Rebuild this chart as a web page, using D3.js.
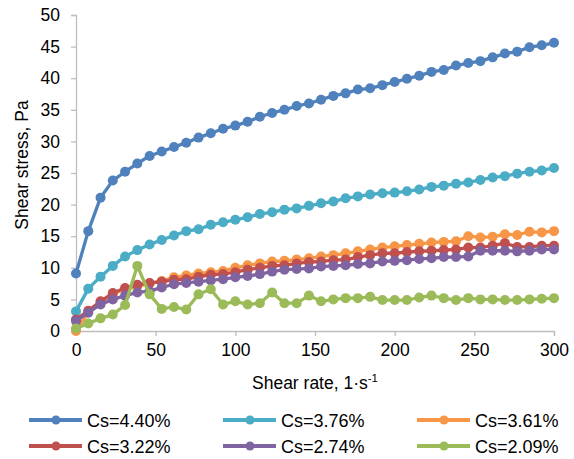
<!DOCTYPE html>
<html>
<head>
<meta charset="utf-8">
<script src="https://cdn.jsdelivr.net/npm/d3@7"></script>
<style>
  body { margin: 0; background: white; }
  svg { font-family: "Liberation Sans", Arial, sans-serif; }
</style>
</head>
<body>
<div id="chart"></div>
<script>
// Shear rate (1/s) - 40 measurement points
const shearRate = [0, 7.7, 15.4, 23.1, 30.8, 38.5, 46.2, 53.8, 61.5, 69.2,
  76.9, 84.6, 92.3, 100, 107.7, 115.4, 123.1, 130.8, 138.5, 146.2,
  153.8, 161.5, 169.2, 176.9, 184.6, 192.3, 200, 207.7, 215.4, 223.1,
  230.8, 238.5, 246.2, 253.8, 261.5, 269.2, 276.9, 284.6, 292.3, 300];

const cs440 = [9.1, 15.8, 21.1, 23.8, 25.2, 26.5, 27.7, 28.4, 29.1, 29.8,
  30.6, 31.3, 32.0, 32.5, 33.1, 33.9, 34.5, 35.0, 35.6, 36.0,
  36.6, 37.2, 37.6, 38.2, 38.4, 38.9, 39.4, 39.9, 40.4, 41.0,
  41.3, 42.0, 42.4, 42.7, 43.3, 43.9, 44.2, 44.9, 45.2, 45.6];
const cs376 = [3.1, 6.7, 8.6, 10.3, 11.8, 12.8, 13.7, 14.4, 15.1, 15.8,
  16.1, 16.8, 17.2, 17.6, 18.0, 18.5, 18.8, 19.2, 19.4, 19.8,
  20.2, 20.5, 21.0, 21.3, 21.6, 21.8, 21.9, 22.1, 22.4, 22.8,
  23.0, 23.3, 23.5, 23.9, 24.3, 24.5, 24.9, 25.2, 25.4, 25.8];
const cs361 = [0, 3.0, 4.5, 5.9, 6.6, 7.1, 7.5, 7.9, 8.5, 8.8,
  9.1, 9.3, 9.5, 10.0, 10.4, 10.7, 11.0, 11.1, 11.3, 11.5,
  11.8, 12.0, 12.3, 12.6, 12.9, 13.2, 13.4, 13.6, 13.8, 14.0,
  14.1, 14.2, 15.0, 14.8, 14.9, 15.3, 15.2, 15.7, 15.6, 15.8];
const cs322 = [1.8, 3.2, 4.7, 6.0, 6.8, 7.3, 7.6, 7.8, 8.1, 8.2,
  8.6, 8.9, 9.0, 9.3, 9.7, 10.0, 10.3, 10.4, 10.7, 10.9,
  11.0, 11.2, 11.3, 11.7, 12.0, 12.3, 12.3, 12.5, 12.6, 12.7,
  12.8, 12.9, 13.2, 13.2, 13.5, 13.9, 13.3, 13.3, 13.5, 13.5];
const cs274 = [1.6, 2.9, 4.2, 5.0, 5.6, 6.1, 6.3, 6.9, 7.4, 7.6,
  7.8, 8.0, 8.2, 8.5, 8.7, 9.0, 9.4, 9.7, 9.8, 9.9,
  10.2, 10.3, 10.4, 10.6, 10.7, 11.0, 11.1, 11.2, 11.4, 11.5,
  11.7, 11.7, 11.8, 12.7, 12.7, 12.7, 12.6, 12.7, 12.9, 12.9];
const cs209 = [0.4, 1.2, 2.0, 2.6, 4.1, 10.3, 5.8, 3.5, 3.8, 3.4,
  5.8, 6.6, 4.2, 4.7, 4.2, 4.4, 6.1, 4.4, 4.4, 5.6,
  4.7, 5.0, 5.2, 5.2, 5.4, 4.9, 4.9, 4.9, 5.3, 5.6,
  5.2, 4.9, 5.2, 5.0, 5.0, 4.9, 4.9, 5.0, 5.1, 5.2];

const seriesNames = ["Cs=4.40%", "Cs=3.76%", "Cs=3.61%", "Cs=3.22%", "Cs=2.74%", "Cs=2.09%"];
const seriesValues = [cs440, cs376, cs361, cs322, cs274, cs209];
const seriesColors = ["#4f81bd", "#4bacc6", "#f79646", "#c0504d", "#8064a2", "#9bbb59"];

const xTicks = [0, 50, 100, 150, 200, 250, 300];
const yTicks = [0, 5, 10, 15, 20, 25, 30, 35, 40, 45, 50];

const width = 574, height = 459;
const margin = {top: 15, right: 20, bottom: 128, left: 76};

const svg = d3.select("#chart").append("svg")
  .attr("width", width).attr("height", height);

const x = d3.scaleLinear().domain([0, 300]).range([margin.left, width - margin.right]);
const y = d3.scaleLinear().domain([0, 50]).range([height - margin.bottom, margin.top]);

const axisColor = "#bfbfbf";

// axes
const xAxis = svg.append("g").attr("transform", `translate(0,${y(0)})`)
  .call(d3.axisBottom(x).tickValues(xTicks).tickSize(5).tickPadding(8));
const yAxis = svg.append("g").attr("transform", `translate(${x(0)},0)`)
  .call(d3.axisLeft(y).tickValues(yTicks).tickSize(5).tickPadding(11));

[xAxis, yAxis].forEach(g => {
  g.select(".domain").attr("stroke", axisColor).attr("stroke-width", 1.3);
  g.selectAll(".tick line").attr("stroke", axisColor).attr("stroke-width", 1.3);
  g.selectAll(".tick text").attr("fill", "#000").style("font-size", "17.5px")
    .style("font-family", "'Liberation Sans', Arial, sans-serif");
});

// axis titles
svg.append("text")
  .attr("transform", `translate(28,165) rotate(-90)`)
  .attr("text-anchor", "middle").style("font-size", "17.5px")
  .text("Shear stress, Pa");

const xt = svg.append("text")
  .attr("x", 315).attr("y", 389)
  .attr("text-anchor", "middle").style("font-size", "17.5px");
xt.append("tspan").text("Shear rate, 1·s");
xt.append("tspan").attr("dy", -7).style("font-size", "11.5px").text("-1");

// series
const line = d3.line().x((d, i) => x(shearRate[i])).y(d => y(d));

seriesValues.forEach((vals, k) => {
  const g = svg.append("g");
  g.append("path").datum(vals)
    .attr("fill", "none").attr("stroke", seriesColors[k])
    .attr("stroke-width", 3.3).attr("stroke-linejoin", "round")
    .attr("d", line);
  g.selectAll("circle").data(vals).join("circle")
    .attr("cx", (d, i) => x(shearRate[i])).attr("cy", d => y(d))
    .attr("r", 5).attr("fill", seriesColors[k]);
});

// legend
const legCols = [29, 223, 417];
const legRows = [420, 446];
seriesNames.forEach((name, k) => {
  const lx = legCols[k % 3], ly = legRows[Math.floor(k / 3)];
  const g = svg.append("g");
  g.append("line").attr("x1", lx).attr("x2", lx + 53).attr("y1", ly).attr("y2", ly)
    .attr("stroke", seriesColors[k]).attr("stroke-width", 3.8);
  g.append("circle").attr("cx", lx + 27).attr("cy", ly).attr("r", 4.5).attr("fill", seriesColors[k]);
  g.append("text").attr("x", lx + 58).attr("y", ly + 6.5)
    .style("font-size", "18px").text(name);
});
</script>
</body>
</html>
